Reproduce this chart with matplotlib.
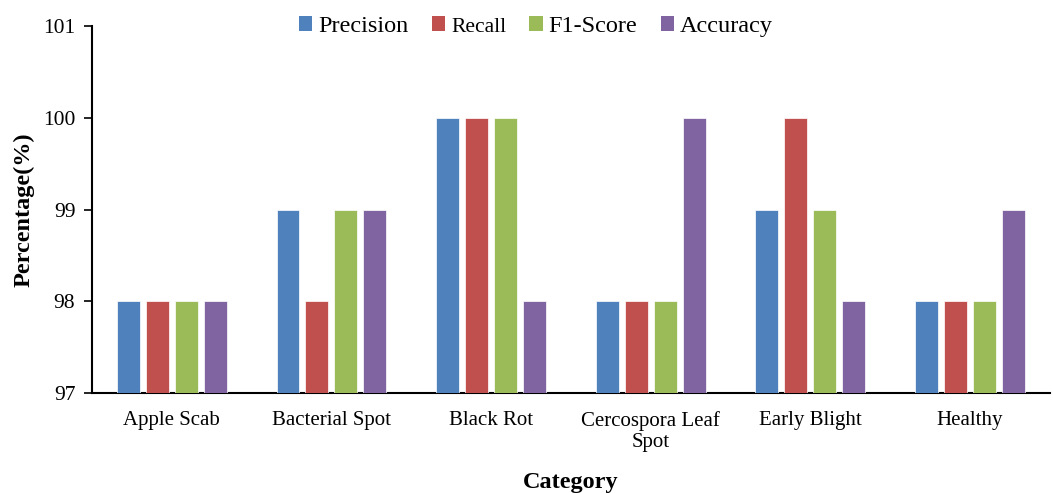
import matplotlib
matplotlib.use("Agg")
import matplotlib.pyplot as plt
from matplotlib.patches import Patch
import numpy as np

categories = ["Apple Scab", "Bacterial Spot", "Black Rot",
              "Cercospora Leaf\nSpot", "Early Blight", "Healthy"]
series_names = ["Precision", "Recall", "F1-Score", "Accuracy"]
precision = [98, 99, 100, 98, 99, 98]
recall = [98, 98, 100, 98, 100, 98]
f1_score = [98, 99, 100, 98, 99, 98]
accuracy = [98, 99, 98, 100, 98, 99]
y_ticks = [97, 98, 99, 100, 101]

colors = ["#4F81BD", "#C0504D", "#9BBB59", "#8064A2"]

plt.rcParams["font.family"] = ["Liberation Serif", "DejaVu Serif"]

fig = plt.figure(figsize=(10.53, 4.93), dpi=100)
ax = fig.add_axes([0.0874, 0.2028, 0.9096, 0.7445])

x = np.arange(len(categories))
width = 0.144
step = 0.1816
base = y_ticks[0]
for i, (vals, col) in enumerate(zip([precision, recall, f1_score, accuracy], colors)):
    vals = np.array(vals, dtype=float)
    ax.bar(x + (i - 1.5) * step, vals - base, bottom=base, width=width,
           color=col, edgecolor="white", linewidth=0.5, zorder=3)

ax.set_xlim(-0.5, len(categories) - 0.5)
ax.set_ylim(y_ticks[0], y_ticks[-1])
ax.set_yticks(y_ticks)
ax.set_xticks(x)
ax.set_xticklabels(categories, fontsize=15, linespacing=1.15)
ax.tick_params(axis="x", length=0, pad=13)
ax.tick_params(axis="y", labelsize=15.5, length=6, width=1.2, direction="out", pad=6)
for spine in ("top", "right"):
    ax.spines[spine].set_visible(False)
for spine in ("left", "bottom"):
    ax.spines[spine].set_linewidth(1.5)

ax.set_xlabel("Category", fontsize=17.5, fontweight="bold", labelpad=14)
ax.set_ylabel("Percentage(%)", fontsize=17.5, fontweight="bold", labelpad=6)

handles = [Patch(facecolor=c, edgecolor="none") for c in colors]
leg = fig.legend(handles, series_names, loc="upper center",
                 bbox_to_anchor=(0.509, 1.012), ncol=4, frameon=False,
                 fontsize=17.5, handlelength=0.55, handleheight=0.55,
                 handletextpad=0.25, columnspacing=0.95)
leg.get_texts()[1].set_fontsize(15.5)

fig.savefig("out.png", dpi=100)
plt.close(fig)
